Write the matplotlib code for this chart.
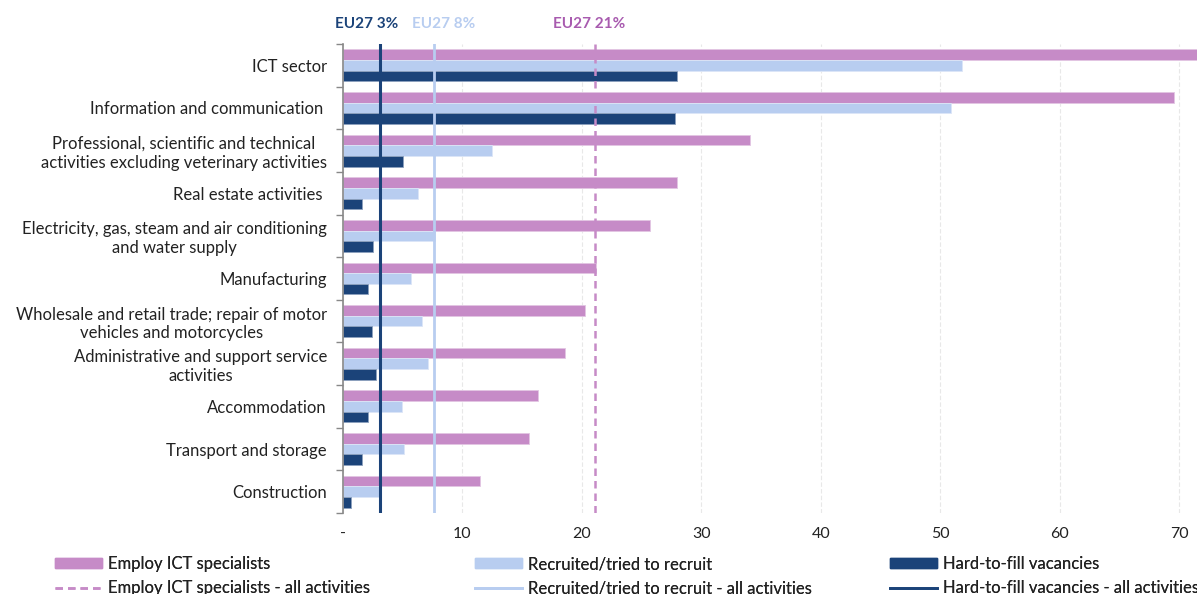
import numpy as np
import matplotlib
matplotlib.use("Agg")
import matplotlib.pyplot as plt
from matplotlib.patches import Patch
from matplotlib.lines import Line2D
import matplotlib.transforms as mtransforms

plt.rcParams['font.family'] = ['Lato', 'DejaVu Sans']

# data
sectors = ['ICT sector',
           'Information and communication ',
           'Professional, scientific and technical\nactivities excluding veterinary activities',
           'Real estate activities ',
           'Electricity, gas, steam and air conditioning\nand water supply',
           'Manufacturing',
           'Wholesale and retail trade; repair of motor\nvehicles and motorcycles',
           'Administrative and support service\nactivities',
           'Accommodation',
           'Transport and storage',
           'Construction']
employ = [72.5, 69.6, 34.1, 28.0, 25.7, 21.2, 20.3, 18.6, 16.3, 15.6, 11.5]
recruited = [51.8, 50.9, 12.5, 6.3, 7.7, 5.7, 6.6, 7.1, 4.9, 5.1, 3.0]
hard_fill = [28.0, 27.8, 5.0, 1.6, 2.5, 2.1, 2.4, 2.8, 2.1, 1.6, 0.7]

eu_employ = 21.1
eu_recruited = 7.6
eu_hard = 3.1

x_ticks = [0, 10, 20, 30, 40, 50, 60, 70]
x_labels = ['-', '10', '20', '30', '40', '50', '60', '70']

c_pink = '#C68BC7'
c_light = '#B8CDF0'
c_dark = '#1B4379'
c_pink_txt = '#A85BAF'
fs = 12

fig = plt.figure(figsize=(11.97, 5.94), dpi=100)
ax = fig.add_axes([343/1197, 1 - 513/594, 1 - 343/1197, (513 - 44)/594])

y = np.arange(len(sectors))
h = 0.25
ax.barh(y - h, employ, height=h, color=c_pink, edgecolor='#E2C6E3', linewidth=0.6, zorder=2)
ax.barh(y, recruited, height=h, color=c_light, edgecolor='#DCE6F7', linewidth=0.6, zorder=2)
ax.barh(y + h, hard_fill, height=h, color=c_dark, edgecolor='#8CA1BE', linewidth=0.6, zorder=2)

ax.axvline(eu_employ, color=c_pink, lw=1.8, ls=(0, (3, 2)), zorder=3)
ax.axvline(eu_recruited, color=c_light, lw=2, zorder=3)
ax.axvline(eu_hard, color=c_dark, lw=2.2, zorder=3)

ax.set_xlim(0, 71.5)
ax.set_ylim(len(sectors) - 0.5, -0.5)

ax.set_xticks(x_ticks)
ax.set_xticklabels(x_labels, fontsize=11.5, color='#222222')
ax.tick_params(axis='x', length=0, pad=10)
ax.grid(axis='x', color='#E8E8E8', lw=0.8, ls=(0, (4, 2)), zorder=0)

ax.set_yticks(y)
ax.set_yticklabels(sectors, fontsize=fs, color='#222222')
for lab in ax.get_yticklabels():
    lab.set_multialignment('center')
ax.tick_params(axis='y', which='major', length=0, pad=11.5)
ax.set_yticks(np.arange(-0.5, len(sectors)), minor=True)
ax.tick_params(axis='y', which='minor', length=5, width=1, color='#888888')

for s in ['top', 'right', 'bottom']:
    ax.spines[s].set_visible(False)
ax.spines['left'].set_color('#888888')
ax.spines['left'].set_linewidth(1.2)

trans = mtransforms.blended_transform_factory(ax.transData, fig.transFigure)
ax.text(2.0, 1 - 24/594, 'EU27 3%', transform=trans, ha='center', va='center',
        fontsize=11, fontweight='bold', color=c_dark)
ax.text(8.4, 1 - 24/594, 'EU27 8%', transform=trans, ha='center', va='center',
        fontsize=11, fontweight='bold', color=c_light)
ax.text(20.6, 1 - 24/594, 'EU27 21%', transform=trans, ha='center', va='center',
        fontsize=11, fontweight='bold', color=c_pink_txt)

# three legend columns, each bar + its all-activities line
columns = [
    (55, [Patch(color=c_pink), Line2D([], [], color=c_pink, lw=1.8, ls=(0, (3, 2)))],
     ['Employ ICT specialists', 'Employ ICT specialists - all activities']),
    (475, [Patch(color=c_light), Line2D([], [], color=c_light, lw=2)],
     ['Recruited/tried to recruit', 'Recruited/tried to recruit - all activities']),
    (890, [Patch(color=c_dark), Line2D([], [], color=c_dark, lw=2)],
     ['Hard-to-fill vacancies', 'Hard-to-fill vacancies - all activities']),
]
for x0, hs, ls in columns:
    leg = fig.legend(hs, ls, loc='upper left', bbox_to_anchor=(x0/1197, 1 - 556/594),
                     frameon=False, fontsize=fs, handlelength=2.8, handleheight=0.6,
                     handletextpad=0.4, labelspacing=0.5, borderaxespad=0, borderpad=0,
                     labelcolor='#222222')
    fig.add_artist(leg)

fig.savefig('out.png', dpi=100)
